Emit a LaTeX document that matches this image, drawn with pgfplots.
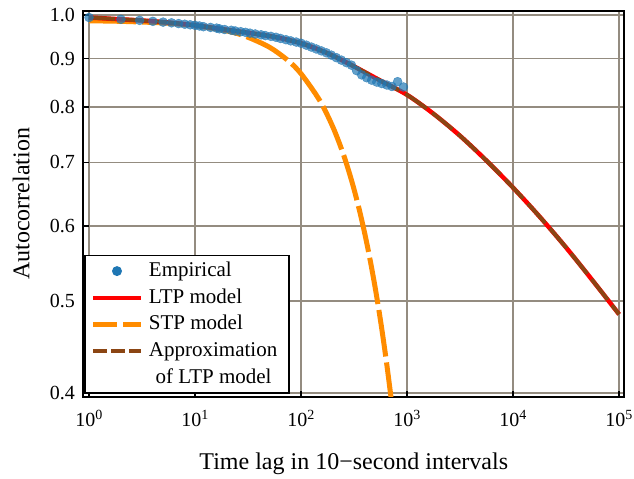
\documentclass[border=0pt]{standalone}
\usepackage{fontspec}
\setmainfont{Liberation Serif}
\usepackage{pgfplots}
\pgfplotsset{compat=1.18}
\usepackage{pgfplotstable}

\definecolor{empblue}{HTML}{1F77B4}
\definecolor{ltpred}{HTML}{FF0000}
\definecolor{stporange}{HTML}{FF8C00}
\definecolor{apxbrown}{HTML}{8B4513}
\definecolor{gridc}{RGB}{148,140,128}

\pgfplotstableread{
x y
1 0.9940
2 0.9897
3 0.9871
4 0.9848
5 0.9830
6 0.9813
7 0.9795
8 0.9780
9 0.9766
10 0.9754
11 0.9738
12 0.9721
14 0.9704
16 0.9688
17 0.9672
19 0.9655
22 0.9638
24 0.9621
27 0.9604
30 0.9588
33 0.9570
37 0.9551
42 0.9532
46 0.9514
52 0.9496
58 0.9475
64 0.9448
72 0.9420
80 0.9393
90 0.9366
100 0.9339
112 0.9296
125 0.9253
139 0.9211
155 0.9169
173 0.9126
193 0.9074
215 0.9019
240 0.8965
268 0.8910
299 0.8856
334 0.8740
373 0.8650
416 0.8590
464 0.8540
518 0.8500
578 0.8470
645 0.8440
720 0.8410
815 0.8509
925 0.8400
}\emptable

\pgfplotstableread{
x y
1 0.9940
1.778 0.9904
3.162 0.9868
5.623 0.9820
10 0.9754
17.78 0.9667
31.62 0.9579
56.23 0.9482
100 0.9339
177.8 0.9116
316.2 0.8829
562.3 0.8529
1000 0.8241
1778 0.7871
3162 0.7463
5623 0.7026
10000 0.6582
17783 0.6136
31623 0.5693
56234 0.5256
100000 0.4842
}\ltptable

\pgfplotstableread{
x y
1 0.9861
2 0.9848
5 0.9810
10 0.9746
20 0.9621
30 0.9497
50 0.9254
75 0.8960
100 0.8674
150 0.8130
200 0.7620
250 0.7143
300 0.6694
350 0.6275
400 0.5881
450 0.5512
500 0.5167
550 0.4843
600 0.4539
650 0.4254
700 0.3988
720 0.3886
}\stptable

\begin{document}
\begin{tikzpicture}
\begin{axis}[
  scale only axis, width=541pt, height=385.7pt,
  xmode=log, ymode=log,
  xmin=0.883, xmax=112000, ymin=0.3966, ymax=1.0098,
  xtick={1,10,100,1000,10000,100000},
  xticklabels={10\textsuperscript{0},10\textsuperscript{1},10\textsuperscript{2},10\textsuperscript{3},10\textsuperscript{4},10\textsuperscript{5}},
  ytick={0.4,0.5,0.6,0.7,0.8,0.9,1.0},
  yticklabels={0.4,0.5,0.6,0.7,0.8,0.9,1.0},
  xminorticks=false, yminorticks=false,
  grid=major,
  major grid style={gridc, line width=1.5pt},
  tick pos=left, tick align=inside,
  major tick length=6pt,
  major tick style={black, line width=1.5pt},
  axis line style={black, line width=2pt},
  tick label style={font=\fontsize{20}{24}\selectfont},
  xticklabel style={anchor=base, yshift=-30.3pt},
  yticklabel style={anchor=east, inner sep=0pt, xshift=-8.3pt},
  label style={font=\fontsize{24}{28}\selectfont},
  xlabel={Time lag in 10−second intervals},
  ylabel={Autocorrelation},
  xlabel style={at={([yshift=-73.3pt]rel axis cs:0.5,0)}, anchor=base},
  ylabel style={at={([xshift=-54pt]rel axis cs:0,0.5)}, anchor=base},
  legend cell align=left,
  legend style={at={(0.0013,0.007)}, anchor=south west, draw=black, line width=1.5pt, fill=white,
    font=\fontsize{21}{26.7}\selectfont, inner xsep=6pt, inner ysep=2pt,
    column sep=0pt, row sep=0pt,
    nodes={inner xsep=5.7pt, inner ysep=0pt, text height=18.7pt, text depth=8pt}},
]
\addplot[forget plot, draw=stporange, line width=5pt, dash pattern=on 47pt off 6pt, smooth] table {\stptable};
\addplot[forget plot, draw=ltpred, line width=4.5pt, smooth] table {\ltptable};
\addplot[forget plot, draw=apxbrown, line width=3.8pt, dash pattern=on 26pt off 7pt, smooth] table {\ltptable};
\addplot[forget plot, only marks, mark=*, mark size=4.5pt, color=empblue, opacity=0.7] table {\emptable};

\addlegendimage{legend image code/.code={\path[draw=none,fill=none] (0pt,0pt) rectangle (48pt,0pt); \path[draw=none,fill=empblue] (24pt,0pt) circle (5pt);}}
\addlegendentry{Empirical}
\addlegendimage{legend image code/.code={\draw[ltpred, line width=4.5pt] (0pt,0pt) -- (48pt,0pt);}}
\addlegendentry{LTP model}
\addlegendimage{legend image code/.code={\draw[stporange, line width=4.5pt, dash pattern=on 23.5pt off 6.5pt] (0pt,0pt) -- (48pt,0pt);}}
\addlegendentry{STP model}
\addlegendimage{legend image code/.code={\draw[apxbrown, line width=4.5pt, dash pattern=on 14pt off 4pt] (0pt,0pt) -- (48pt,0pt);}}
\addlegendentry{Approximation}
\addlegendimage{legend image code/.code={\path[draw=none,fill=none] (0pt,0pt) rectangle (48pt,0pt);}}
\addlegendentry{\hspace*{6.7pt}of LTP model}

\coordinate (bl) at (rel axis cs:0,0);
\coordinate (tr) at (rel axis cs:1,1);
\end{axis}
\pgfresetboundingbox
\useasboundingbox ([xshift=-83.3pt,yshift=-82.3pt]bl) rectangle ([xshift=9.7pt,yshift=11pt]tr);
\end{tikzpicture}
\end{document}
